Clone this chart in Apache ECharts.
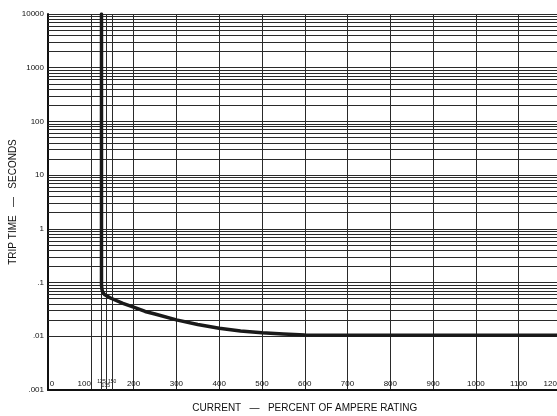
<!DOCTYPE html>
<html>
<head>
<meta charset="utf-8">
<script src="https://cdn.jsdelivr.net/npm/echarts@6/dist/echarts.min.js"></script>
<style>
html,body{margin:0;padding:0;background:#fff;}
#chart{width:557px;height:416px;}
</style>
</head>
<body>
<div id="chart"></div>
<script>
// Trip curve: current (% of rating) vs trip time (s)
var curveCurrent = [125, 125, 126, 128, 132, 138, 145, 150, 175, 200, 227, 250, 300, 350, 400, 450, 500, 550, 600, 700, 1200];
var curveTime    = [10000, 0.09, 0.075, 0.066, 0.060, 0.056, 0.052, 0.050, 0.041, 0.035, 0.029, 0.026, 0.0202, 0.0166, 0.0141, 0.0125, 0.0116, 0.0110, 0.0106, 0.0105, 0.0105];

var xTickValues = [0, 100, 125, 135, 150, 200, 300, 400, 500, 600, 700, 800, 900, 1000, 1100, 1200];
var xExtraLines = [125, 135, 150];
var yDecades = [0.001, 0.01, 0.1, 1, 10, 100, 1000];
var yMinorMultipliers = [2, 3, 4, 5, 6, 7, 8, 9];
var yTickLabels = ['.001', '.01', '.1', '1', '10', '100', '1000', '10000'];

var xAxisTitle = 'CURRENT   \u2014   PERCENT OF AMPERE RATING';
var yAxisTitle = 'TRIP TIME   \u2014   SECONDS';

var curveData = curveCurrent.map(function (c, i) { return [c, curveTime[i]]; });

var gridMarks = [];
yDecades.forEach(function (d) {
  yMinorMultipliers.forEach(function (m) { gridMarks.push({ yAxis: d * m }); });
});
xExtraLines.forEach(function (v) { gridMarks.push({ xAxis: v }); });

var gridColor = '#2a2a2a';
var fontMain = '"Liberation Sans", Arial, sans-serif';
var fontNarrow = '"Liberation Sans Narrow", "Arial Narrow", "Liberation Sans", sans-serif';

var chart = echarts.init(document.getElementById('chart'), null, { renderer: 'canvas' });
chart.setOption({
  animation: false,
  backgroundColor: '#fff',
  grid: { left: 48, top: 14, width: 513.5, height: 376, containLabel: false, outerBoundsMode: 'none' },
  xAxis: {
    type: 'value', min: 0, max: 1200, interval: 100,
    name: xAxisTitle, nameLocation: 'middle', nameGap: 13, nameMoveOverlap: false,
    nameTextStyle: { fontFamily: fontNarrow, fontSize: 10, color: '#111', verticalAlign: 'top' },
    axisLine: { show: true, onZero: false, lineStyle: { color: '#111', width: 2 } },
    axisTick: { show: false },
    splitLine: { show: true, lineStyle: { color: gridColor, width: 1 } },
    axisLabel: {
      inside: true, margin: 6, verticalAlign: 'middle',
      customValues: xTickValues,
      fontFamily: fontMain, fontSize: 8, color: '#111',
      formatter: function (v) {
        if (v === 0) return '{z|0}';
        if (v === 100) return '{h|100}';
        if (v === 1200) return '{e|1200}';
        if (v === 125 || v === 150) return '{s|' + v + '}';
        if (v === 135) return '{d|' + v + '}';
        return String(v);
      },
      rich: {
        z: { fontSize: 8, padding: [0, 0, 0, 8] },
        h: { fontSize: 8, padding: [0, 13, 0, 0] },
        e: { fontSize: 8, padding: [0, 18, 0, 0] },
        s: { fontSize: 5, padding: [0, 0, 5, 0] },
        d: { fontSize: 5, padding: [4, 0, 0, 0] }
      }
    }
  },
  yAxis: {
    type: 'log', logBase: 10, min: 0.001, max: 10000, interval: 1,
    name: yAxisTitle, nameLocation: 'middle', nameGap: 30, nameRotate: 90, nameMoveOverlap: false,
    nameTextStyle: { fontFamily: fontNarrow, fontSize: 10, color: '#111' },
    axisLine: { show: true, lineStyle: { color: '#111', width: 2 } },
    axisTick: { show: false },
    splitLine: { show: true, lineStyle: { color: gridColor, width: 1 } },
    axisLabel: {
      margin: 4, fontFamily: fontMain, fontSize: 8, color: '#111',
      formatter: function (v) {
        var i = Math.round(Math.log10(v)) + 3;
        return yTickLabels[i] !== undefined ? yTickLabels[i] : '';
      }
    }
  },
  series: [
    {
      type: 'line', data: [], z: 1, silent: true,
      markLine: {
        silent: true, symbol: ['none', 'none'], animation: false,
        label: { show: false },
        lineStyle: { color: gridColor, width: 1, type: 'solid' },
        emphasis: { disabled: true },
        data: gridMarks
      }
    },
    {
      type: 'line', data: curveData, z: 5, showSymbol: false, smooth: false,
      lineStyle: { color: '#1a1a1a', width: 3.5, join: 'round', cap: 'round' },
      clip: true
    }
  ]
});
</script>
</body>
</html>
